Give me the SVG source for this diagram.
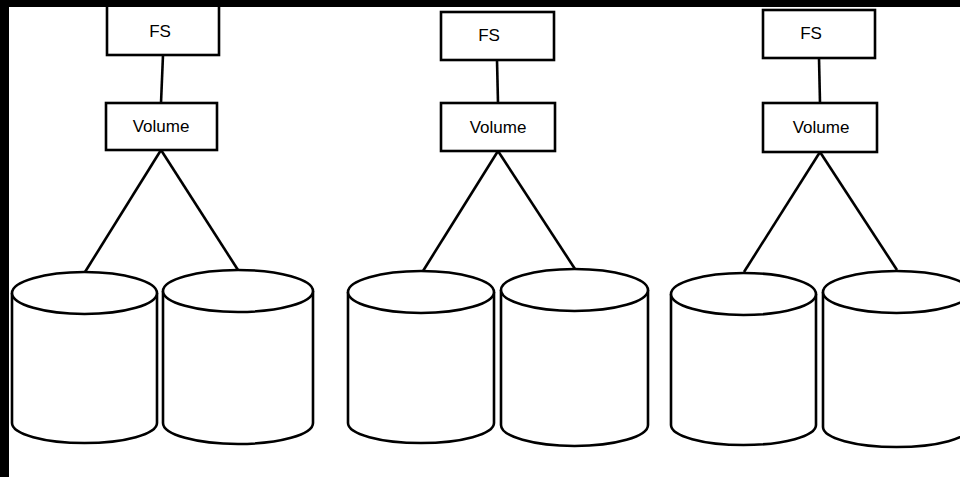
<svg xmlns="http://www.w3.org/2000/svg" width="960" height="477" viewBox="0 0 960 477">
<style>
.box{fill:#fff;stroke:#000;stroke-width:2.6}
.cyl{fill:#fff;stroke:#000;stroke-width:2.6}
.ln{stroke:#000;stroke-width:2.6;fill:none}
text{font-family:"Liberation Sans",Arial,sans-serif;font-size:17px;fill:#000;text-anchor:middle}
</style>
<rect x="0" y="0" width="960" height="477" fill="#fff"/>
<g id="connectors">
<line class="ln" x1="163" y1="55" x2="161" y2="103"/>
<line class="ln" x1="161" y1="150" x2="85" y2="272"/>
<line class="ln" x1="161" y1="150" x2="238" y2="270"/>
<line class="ln" x1="497" y1="60" x2="498" y2="103"/>
<line class="ln" x1="498" y1="151" x2="423" y2="271"/>
<line class="ln" x1="498" y1="151" x2="575" y2="269"/>
<line class="ln" x1="819" y1="58" x2="820" y2="103"/>
<line class="ln" x1="820" y1="152" x2="744" y2="272"/>
<line class="ln" x1="820" y1="152" x2="897" y2="270"/>
</g>
<g id="fs1"><rect class="box" x="107" y="5" width="112" height="50"/><text x="160" y="37">FS</text></g>
<g id="vol1"><rect class="box" x="106" y="103" width="111" height="47"/><text x="161" y="132">Volume</text></g>
<g id="fs2"><rect class="box" x="441" y="12" width="113" height="48"/><text x="489" y="41">FS</text></g>
<g id="vol2"><rect class="box" x="441" y="103" width="114" height="48"/><text x="498" y="133">Volume</text></g>
<g id="fs3"><rect class="box" x="763" y="10" width="112" height="48"/><text x="811" y="39">FS</text></g>
<g id="vol3"><rect class="box" x="763" y="103" width="114" height="49"/><text x="821" y="133">Volume</text></g>
<g id="disk1"><path class="cyl" d="M12,293 L12,423 A72.5,20 0 0 0 157,423 L157,293"/><ellipse class="cyl" cx="84.5" cy="293" rx="72.5" ry="21"/></g>
<g id="disk2"><path class="cyl" d="M163,291 L163,423 A75,21 0 0 0 313,423 L313,291"/><ellipse class="cyl" cx="238" cy="291" rx="75" ry="21"/></g>
<g id="disk3"><path class="cyl" d="M348,292 L348,423 A73,20 0 0 0 494,423 L494,292"/><ellipse class="cyl" cx="421" cy="292" rx="73" ry="21"/></g>
<g id="disk4"><path class="cyl" d="M501,290 L501,425 A73.5,21 0 0 0 648,425 L648,290"/><ellipse class="cyl" cx="574.5" cy="290" rx="73.5" ry="21"/></g>
<g id="disk5"><path class="cyl" d="M671,294 L671,425 A72.5,20 0 0 0 816,425 L816,294"/><ellipse class="cyl" cx="743.5" cy="294" rx="72.5" ry="21"/></g>
<g id="disk6"><path class="cyl" d="M823,292 L823,427 A73.5,20 0 0 0 970,427 L970,292"/><ellipse class="cyl" cx="896.5" cy="292" rx="73.5" ry="21"/></g>
<rect x="0" y="0" width="960" height="7" fill="#000"/>
<rect x="0" y="0" width="9" height="477" fill="#000"/>
</svg>
